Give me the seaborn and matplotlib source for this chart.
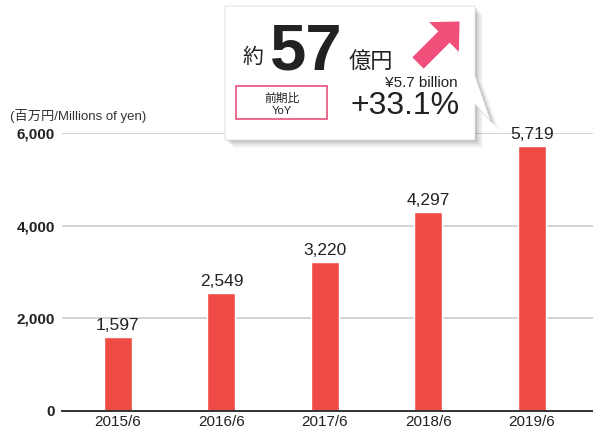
import matplotlib
matplotlib.use("Agg")
import matplotlib.pyplot as plt
import seaborn as sns
from matplotlib.patches import Polygon, Rectangle, FancyArrow

# data
years = ['2015/6', '2016/6', '2017/6', '2018/6', '2019/6']
sales = [1597, 2549, 3220, 4297, 5719]
yticks = [0, 2000, 4000, 6000]

sns.set_style('white')
plt.rcParams['font.family'] = ['Liberation Sans', 'Noto Sans CJK JP', 'DejaVu Sans']

W, H = 593, 434
fig = plt.figure(figsize=(W / 100, H / 100), dpi=100)
ax = fig.add_axes([62 / W, (H - 411) / H, (W - 62) / W, 278 / H])

sns.barplot(x=years, y=sales, color='#ef4b45', width=0.27, saturation=1, ax=ax, zorder=3)
ax.set_xlim(-0.54, 4.59)
ax.set_ylim(0, 6000)
ax.set_yticks(yticks)
ax.set_yticklabels([f'{v:,}' for v in yticks], fontsize=11, fontweight='bold', color='#222222')
ax.tick_params(axis='x', labelsize=11, colors='#222222', length=0, pad=3)
ax.tick_params(axis='y', length=0, pad=5)
ax.set_xlabel('')
ax.set_ylabel('')
ax.grid(axis='y', color='#cccccc', linewidth=1.2, zorder=0)
for s in ['top', 'right', 'left']:
    ax.spines[s].set_visible(False)
ax.spines['bottom'].set_color('#333333')
ax.spines['bottom'].set_linewidth(1.4)
ax.spines['bottom'].set_zorder(4)

for i, v in enumerate(sales):
    ax.text(i, v + 90, f'{v:,}', ha='center', va='bottom', fontsize=12.5, color='#222222', zorder=5)

fig.text(10 / W, 1 - 116 / H, '(百万円/Millions of yen)', fontsize=9.5, color='#333333',
         family=['Liberation Sans', 'Noto Sans CJK JP'], va='center')

# callout overlay in pixel coordinates
ov = fig.add_axes([0, 0, 1, 1], zorder=10)
ov.set_xlim(0, W)
ov.set_ylim(H, 0)
ov.axis('off')
ov.patch.set_alpha(0)

shape = [(225, 6), (475, 6), (475, 76), (491, 122), (475, 104), (475, 140), (225, 140)]
for k, a in [(8, 0.04), (6, 0.05), (4, 0.07), (2, 0.1)]:
    ov.add_patch(Polygon([(x + k, y + k) for x, y in shape], closed=True,
                         facecolor='black', edgecolor='none', alpha=a))
ov.add_patch(Polygon(shape, closed=True, facecolor='white', edgecolor='#dddddd', linewidth=0.6))

jp = ['Noto Sans CJK JP', 'DejaVu Sans']
ov.text(243, 63, '約', fontsize=15, family=jp, va='baseline', color='#222222')
ov.text(270, 69, '57', fontsize=47, fontweight='bold', family=['Liberation Sans'],
        va='baseline', color='#222222')
ov.text(349, 68, '億円', fontsize=16, family=jp, va='baseline', color='#222222')
ov.text(458, 87, '¥5.7 billion', fontsize=11, ha='right', va='baseline', color='#222222')
ov.text(460, 114, '+33.1%', fontsize=23, ha='right', va='baseline', color='#222222')
ov.add_patch(Rectangle((236, 86), 91, 33, facecolor='white', edgecolor='#e8507a', linewidth=1.2))
ov.text(282, 98, '前期比', fontsize=8.5, family=jp, ha='center', va='center', color='#222222')
ov.text(282, 111, 'YoY', fontsize=8, ha='center', va='center', color='#222222')
ov.add_patch(FancyArrow(418, 63, 26, -26, width=16, head_width=42, head_length=22,
                        length_includes_head=False, facecolor='#f0507a', edgecolor='none'))

fig.savefig('out.png', dpi=100)
